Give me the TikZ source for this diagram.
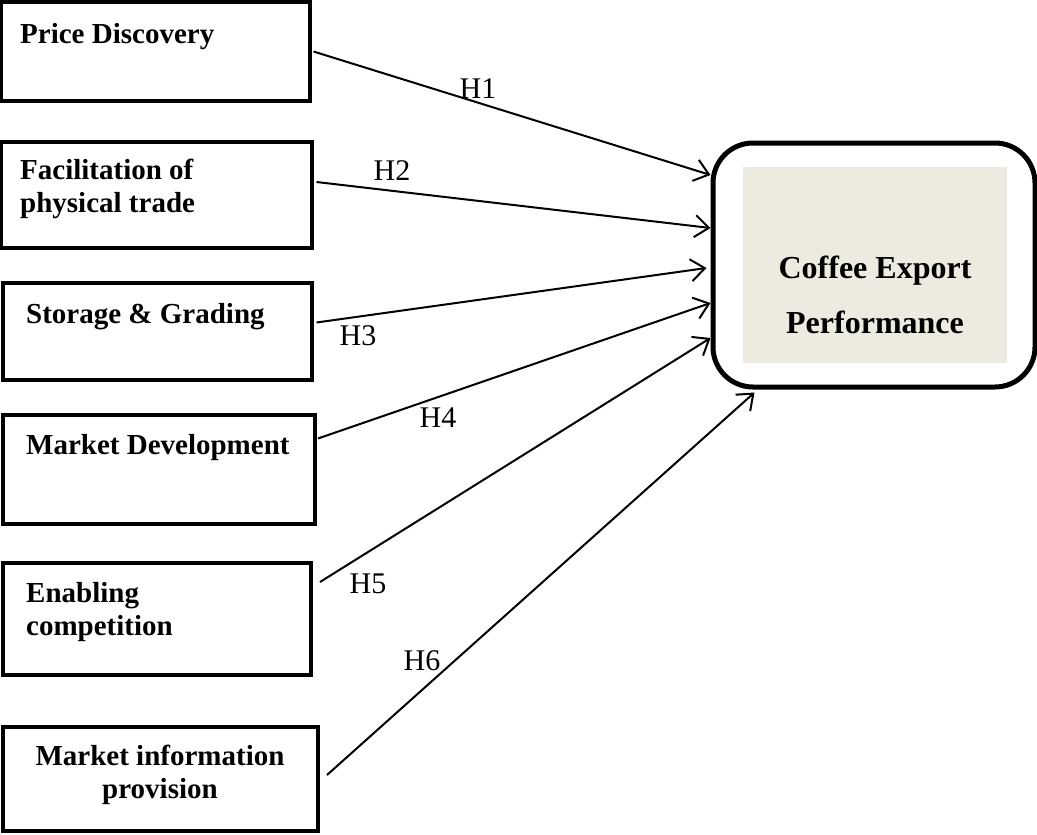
\documentclass[tikz,border=0pt]{standalone}
\usepackage{fontspec}
\setmainfont{Liberation Serif}
\usetikzlibrary{arrows.meta,calc}
\definecolor{panelfill}{RGB}{237,235,224}
\begin{document}
\begin{tikzpicture}[x=1pt,y=-1pt,
  srcbox/.style={draw,line width=4pt,rectangle,inner sep=0pt},
  lbl/.style={font=\fontsize{29}{33}\selectfont\bfseries,inner sep=0pt,anchor=base west,align=left},
  hyp/.style={font=\fontsize{30}{34}\selectfont,inner sep=0pt},
  link/.style={line width=2pt,-{Straight Barb[length=14pt,width=22pt,line width=2pt]}}]
\useasboundingbox (0,0) rectangle (1037,835);
% source boxes
\node[srcbox,minimum width=309pt,minimum height=99pt] (b1) at (155,51.5) {};
\node[srcbox,minimum width=311pt,minimum height=106pt] (b2) at (156,195) {};
\node[srcbox,minimum width=309pt,minimum height=97pt] (b3) at (157,331.5) {};
\node[srcbox,minimum width=312pt,minimum height=109pt] (b4) at (159,469.5) {};
\node[srcbox,minimum width=308pt,minimum height=112pt] (b5) at (157,619) {};
\node[srcbox,minimum width=315pt,minimum height=104pt] (b6) at (160.5,779) {};
% texts (multi-line nodes: base is the last line)
\node[lbl] (t1) at (20,43) {Price Discovery};
\node[lbl] (t2) at (20,212) {Facilitation of\\physical trade};
\node[lbl] (t3) at (26,323) {Storage \& Grading};
\node[lbl] (t4) at (26,454) {Market Development};
\node[lbl] (t5) at (26,635) {Enabling\\competition};
\node[font=\fontsize{29}{33}\selectfont\bfseries,inner sep=0pt,anchor=base,align=center] (t6) at (160,798) {Market information\\provision};
% target
\node[draw,line width=5pt,rounded corners=40pt,minimum width=322pt,minimum height=244pt,inner sep=0pt] (cep) at (874,265) {};
\node[fill=panelfill,minimum width=264pt,minimum height=196pt,inner sep=0pt] (panel) at (875,265) {};
\node[font=\fontsize{32}{36}\selectfont\bfseries,inner sep=0pt,anchor=base] (c1) at (875,278) {Coffee Export};
\node[font=\fontsize{32}{36}\selectfont\bfseries,inner sep=0pt,anchor=base] (c2) at (875,333) {Performance};
% connectors
\draw[link] ([xshift=2pt]b1.east) -- ([yshift=90pt]cep.west);
\draw[link] ([xshift=3pt,yshift=13pt]b2.east) -- ([yshift=37pt]cep.west);
\draw[link] ([xshift=3pt,yshift=9pt]b3.east) -- ([xshift=-4pt,yshift=-3pt]cep.west);
\draw[link] ([xshift=1pt,yshift=31pt]b4.east) -- ([yshift=-38pt]cep.west);
\draw[link] ([xshift=7pt,yshift=37pt]b5.east) -- ([yshift=-73pt]cep.west);
\draw[link] ([xshift=7pt,yshift=4pt]b6.east) -- ([xshift=44pt,yshift=-3pt]cep.south west);
% hypothesis labels
\node[hyp] (h1) at (478,89) {H1};
\node[hyp] (h2) at (392,171) {H2};
\node[hyp] (h3) at (358,336) {H3};
\node[hyp] (h4) at (438,418) {H4};
\node[hyp] (h5) at (368,584) {H5};
\node[hyp] (h6) at (422,661) {H6};
\end{tikzpicture}
\end{document}
